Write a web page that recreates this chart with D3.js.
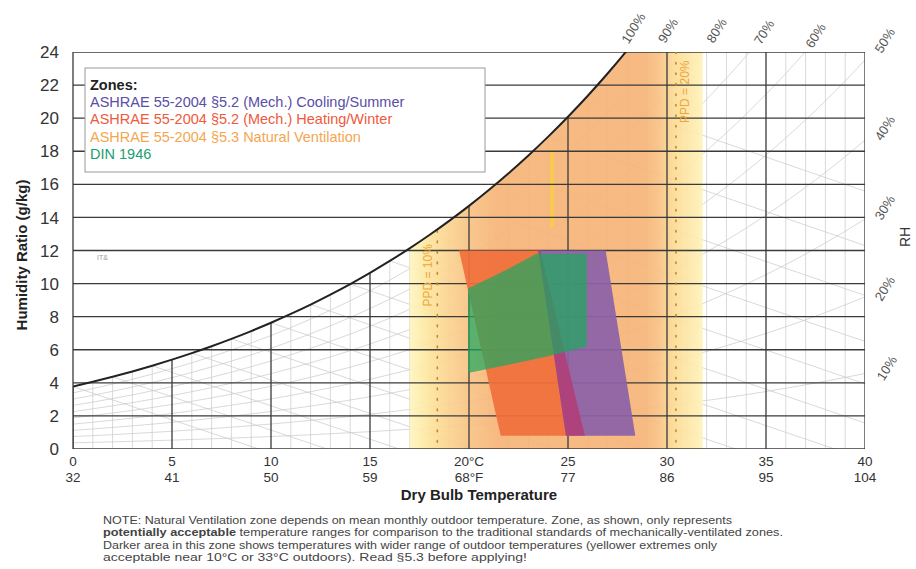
<!DOCTYPE html>
<html>
<head>
<meta charset="utf-8">
<script src="https://cdn.jsdelivr.net/npm/d3@7"></script>
<style>
  body { margin: 0; background: #fff; }
  svg { display: block; font-family: "Liberation Sans", Arial, sans-serif; }
</style>
</head>
<body>
<div id="chart"></div>
<script>
// Psychrometric chart with comfort zones (ASHRAE 55-2004 / DIN 1946)

// saturation vapour pressure (kPa) at 0..40 °C, one per degree
const satPressure = [0.6112, 0.6571, 0.7060, 0.7581, 0.8135, 0.8726, 0.9354, 1.0021, 1.0730, 1.1482,
  1.2282, 1.3129, 1.4028, 1.4981, 1.5989, 1.7057, 1.8188, 1.9383, 2.0647, 2.1982,
  2.3392, 2.4881, 2.6452, 2.8109, 2.9856, 3.1697, 3.3637, 3.5679, 3.7828, 4.0089,
  4.2467, 4.4966, 4.7592, 5.0351, 5.3247, 5.6286, 5.9475, 6.2818, 6.6324, 6.9997, 7.3844];

const xTicks = [0, 5, 10, 15, 20, 25, 30, 35, 40];
const xLabelsC = ["0", "5", "10", "15", "20°C", "25", "30", "35", "40"];
const xLabelsF = ["32", "41", "50", "59", "68°F", "77", "86", "95", "104"];
const yTicks = [0, 2, 4, 6, 8, 10, 12, 14, 16, 18, 20, 22, 24];
const rhLevels = [0.1, 0.2, 0.3, 0.4, 0.5, 0.6, 0.7, 0.8, 0.9];
const wetBulbTemps = [0, 2, 4, 6, 8, 10, 12, 14, 16, 18, 20, 22, 24, 26];

// RH labels [text, temp °C, humidity ratio g/kg]
const rhLabels = [["100%", 28.3, 25.45], ["90%", 30.05, 25.3], ["80%", 32.5, 25.3], ["70%", 34.9, 25.2],
  ["60%", 37.5, 25.0], ["50%", 41.0, 24.7], ["40%", 41.0, 19.4], ["30%", 41.0, 14.6],
  ["20%", 41.0, 9.7], ["10%", 41.1, 4.9]];

// zones, [temp °C, humidity ratio g/kg]
const naturalVent = [17.0, 31.8];
const heatingZone = [[19.5, 12], [23.6, 12], [25.85, 0.8], [21.6, 0.8]];
const coolingZone = [[23.5, 12], [26.9, 12], [28.4, 0.8], [24.9, 0.8]];
const dinZone = [[19.95, 9.7], [21, 10.3], [22, 10.9], [23.4, 11.8], [25.95, 11.8], [25.95, 6.2], [24, 5.6], [22, 5.1], [19.95, 4.6]];
const yellowMark = [24.2, 13.4, 18.1];

const ppdLines = [
  { t: 18.4, wTop: 13.2, label: "PPD = 10%", lt: 17.93, lw: 10.5 },
  { t: 30.45, wTop: 24, label: "PPD = 20%", lt: 30.88, lw: 21.6 }
];

const legendItems = [
  ["ASHRAE 55-2004 §5.2 (Mech.) Cooling/Summer", "#5a4ea6"],
  ["ASHRAE 55-2004 §5.2 (Mech.) Heating/Winter", "#ef5a3c"],
  ["ASHRAE 55-2004 §5.3 Natural Ventilation", "#f5a650"],
  ["DIN 1946", "#20a070"]
];

const noteLines = [
  ["NOTE: Natural Ventilation zone depends on mean monthly outdoor temperature. Zone, as shown, only represents", 629],
  ["", 680],
  ["Darker area in this zone shows temperatures with wider range of outdoor temperatures (yellower extremes only", 614],
  ["acceptable near 10°C or 33°C outdoors).  Read §5.3 before applying!", 424]
];

const width = 916, height = 569;
const x = d3.scaleLinear().domain([0, 40]).range([73, 865]);
const y = d3.scaleLinear().domain([0, 24]).range([449, 52]);

const humRatio = (p, rh) => 622 * rh * p / (101.325 - rh * p);
const satW = t => humRatio(satPressure[t], 1);

const svg = d3.select("#chart").append("svg")
  .attr("width", width).attr("height", height)
  .attr("viewBox", [0, 0, width, height]);

const defs = svg.append("defs");
defs.append("clipPath").attr("id", "plotClip")
  .append("rect").attr("x", x(0)).attr("y", y(24)).attr("width", x(40) - x(0)).attr("height", y(0) - y(24));

const satPts = satPressure.map((p, i) => [i, humRatio(p, 1)]);
const line = d3.line().x(d => x(d[0])).y(d => y(d[1])).curve(d3.curveMonotoneX);
const area = d3.area().x(d => x(d[0])).y0(y(0)).y1(d => y(d[1])).curve(d3.curveMonotoneX);

defs.append("clipPath").attr("id", "underSat")
  .append("path").attr("d", area(satPts));

const grad = defs.append("linearGradient").attr("id", "natGrad")
  .attr("gradientUnits", "userSpaceOnUse")
  .attr("x1", x(naturalVent[0])).attr("x2", x(naturalVent[1])).attr("y1", 0).attr("y2", 0);
[[0, "#fff5c0"], [0.06, "#fde7a0"], [0.12, "#fbd692"], [0.2, "#f8c385"], [0.3, "#f6b477"],
 [0.8, "#f6b477"], [0.85, "#f8c183"], [0.9, "#fbdb94"], [1, "#fff2b8"]]
  .forEach(s => grad.append("stop").attr("offset", s[0]).attr("stop-color", s[1]));

const plot = svg.append("g").attr("clip-path", "url(#plotClip)");

// faint grid: 1°C verticals, RH curves, wet-bulb lines
const faint = plot.append("g").attr("stroke", "#c9c9c9").attr("stroke-width", 0.7).attr("fill", "none");
d3.range(1, 40).filter(t => t % 5 !== 0).forEach(t => {
  faint.append("line").attr("x1", x(t)).attr("x2", x(t))
    .attr("y1", y(Math.min(satW(t), 24))).attr("y2", y(0));
});
rhLevels.forEach(rh => {
  faint.append("path").attr("d", line(satPressure.map((p, i) => [i, humRatio(p, rh)])));
});
wetBulbTemps.forEach(tw => {
  const ws = satW(tw) / 1000;
  const t0 = tw + (2501 - 2.326 * tw) * ws / 1.006;
  faint.append("line").attr("x1", x(tw)).attr("y1", y(ws * 1000)).attr("x2", x(t0)).attr("y2", y(0));
});

// natural ventilation zone
plot.append("g").attr("clip-path", "url(#underSat)")
  .append("rect")
  .attr("x", x(naturalVent[0])).attr("width", x(naturalVent[1]) - x(naturalVent[0]))
  .attr("y", y(24)).attr("height", y(0) - y(24))
  .attr("fill", "url(#natGrad)").attr("opacity", 0.92);

plot.append("rect")
  .attr("x", x(yellowMark[0]) - 2).attr("width", 4)
  .attr("y", y(yellowMark[2])).attr("height", y(yellowMark[1]) - y(yellowMark[2]))
  .attr("fill", "#f8d23a").attr("opacity", 0.7);

// dark grid
const dark = plot.append("g").attr("stroke", "#3a3a3a").attr("stroke-width", 1.3);
yTicks.forEach(v => {
  dark.append("line").attr("x1", x(0)).attr("x2", x(40)).attr("y1", y(v)).attr("y2", y(v));
});
xTicks.forEach(t => {
  dark.append("line").attr("x1", x(t)).attr("x2", x(t))
    .attr("y1", y(Math.min(satW(t), 24))).attr("y2", y(0));
});

// comfort zones
const poly = pts => "M" + pts.map(d => [x(d[0]), y(d[1])].join(",")).join("L") + "Z";
defs.append("clipPath").attr("id", "coolClip").append("path").attr("d", poly(coolingZone));
plot.append("path").attr("d", poly(heatingZone)).attr("fill", "#f0703c").attr("opacity", 0.93);
plot.append("path").attr("d", poly(coolingZone)).attr("fill", "#8c62a8").attr("opacity", 0.93);
plot.append("path").attr("d", poly(heatingZone)).attr("clip-path", "url(#coolClip)")
  .attr("fill", "#b0407a").attr("opacity", 0.93);
plot.append("path").attr("d", poly(dinZone)).attr("fill", "#1fa860").attr("opacity", 0.72);

// PPD dotted lines and labels
ppdLines.forEach(p => {
  plot.append("line").attr("x1", x(p.t)).attr("x2", x(p.t))
    .attr("y1", y(p.wTop)).attr("y2", y(0))
    .attr("stroke", "#c8852a").attr("stroke-width", 1.6)
    .attr("stroke-dasharray", "1.5 9").attr("stroke-linecap", "round");
  svg.append("text")
    .attr("transform", `translate(${x(p.lt)},${y(p.lw)}) rotate(-90)`)
    .attr("text-anchor", "middle").attr("dy", "0.35em")
    .attr("font-size", 12).attr("fill", "#eea53a")
    .text(p.label);
});

// saturation curve
plot.append("path").attr("d", line(satPts))
  .attr("fill", "none").attr("stroke", "#222").attr("stroke-width", 2);

// frame
svg.append("line").attr("x1", x(0)).attr("x2", x(0)).attr("y1", y(24)).attr("y2", y(0))
  .attr("stroke", "#3a3a3a").attr("stroke-width", 1.3);

svg.append("text").attr("x", 97).attr("y", 260).attr("font-size", 7).attr("fill", "#999").text("IT&");

// legend
const legend = svg.append("g");
legend.append("rect").attr("x", 85).attr("y", 68).attr("width", 400).attr("height", 104)
  .attr("fill", "#fff").attr("stroke", "#9a9a9a").attr("stroke-width", 1);
legend.append("text").attr("x", 90).attr("y", 90).attr("font-size", 14.5)
  .attr("font-weight", "bold").attr("fill", "#222").text("Zones:");
legendItems.forEach((d, i) => {
  legend.append("text").attr("x", 90).attr("y", 107 + i * 17.3)
    .attr("font-size", 14.5).attr("fill", d[1]).text(d[0]);
});

// axes labels
const yl = svg.append("g").attr("font-size", 17).attr("fill", "#333").attr("text-anchor", "end");
yTicks.forEach(v => yl.append("text").attr("x", 59).attr("y", y(v)).attr("dy", "0.36em").text(v));

const xl = svg.append("g").attr("font-size", 13.5).attr("fill", "#333").attr("text-anchor", "middle")
  .style("font-family", "'Liberation Sans Narrow', 'Liberation Sans', sans-serif");
xTicks.forEach((t, i) => {
  xl.append("text").attr("x", x(t)).attr("y", 466).text(xLabelsC[i]);
  xl.append("text").attr("x", x(t)).attr("y", 482).text(xLabelsF[i]);
});
svg.append("text").attr("x", 479).attr("y", 500).attr("text-anchor", "middle")
  .attr("font-size", 15).attr("font-weight", "bold").attr("fill", "#222")
  .style("font-family", "'Liberation Sans Narrow', 'Liberation Sans', sans-serif")
  .text("Dry Bulb Temperature");
svg.append("text").attr("transform", `translate(27,255) rotate(-90)`).attr("text-anchor", "middle")
  .attr("font-size", 15).attr("font-weight", "bold").attr("fill", "#222")
  .text("Humidity Ratio (g/kg)");
svg.append("text").attr("transform", `translate(910,237) rotate(-90)`).attr("text-anchor", "middle")
  .attr("font-size", 14).attr("fill", "#333").text("RH");

// RH labels
rhLabels.forEach(d => {
  svg.append("text")
    .attr("transform", `translate(${x(d[1])},${y(d[2])}) rotate(-58)`)
    .attr("text-anchor", "middle").attr("dy", "0.35em")
    .attr("font-size", 13).attr("fill", "#555").text(d[0]);
});

// footnote
const note = svg.append("g").attr("font-size", 10.5).attr("fill", "#444");
noteLines.forEach((d, i) => {
  const t = note.append("text").attr("x", 103).attr("y", 524 + i * 12.3)
    .attr("textLength", d[1]).attr("lengthAdjust", "spacingAndGlyphs");
  if (i === 1) {
    t.append("tspan").attr("font-weight", "bold").text("potentially acceptable");
    t.append("tspan").text(" temperature ranges for comparison to the traditional standards of mechanically-ventilated zones.");
  } else {
    t.text(d[0]);
  }
});
</script>
</body>
</html>
